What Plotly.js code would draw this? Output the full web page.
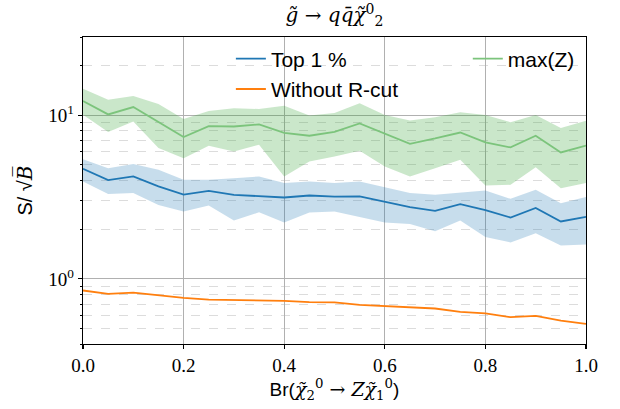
<!DOCTYPE html>
<html>
<head>
<meta charset="utf-8">
<script src="https://cdn.plot.ly/plotly-3.0.1.min.js"></script>
<style>html,body{margin:0;padding:0;background:#fff;}#chart{width:620px;height:409px;}</style>
</head>
<body>
<div id="chart"></div>
<script>
// x values: branching ratio
var br = [0.0, 0.05, 0.1, 0.15, 0.2, 0.25, 0.3, 0.35, 0.4, 0.45, 0.5, 0.55, 0.6, 0.65, 0.7, 0.75, 0.8, 0.85, 0.9, 0.95, 1.0];

// Top 1 %
var top1 = [4.70, 4.01, 4.22, 3.67, 3.27, 3.45, 3.26, 3.21, 3.14, 3.23, 3.18, 3.19, 2.96, 2.74, 2.60, 2.86, 2.63, 2.37, 2.71, 2.24, 2.39];
var top1Hi = [5.38, 4.74, 5.02, 4.63, 4.03, 4.03, 4.12, 4.22, 3.85, 3.93, 3.85, 3.93, 3.63, 3.34, 3.26, 3.37, 3.46, 3.08, 3.50, 2.90, 3.16];
var top1Lo = [3.93, 3.30, 3.34, 2.83, 2.58, 2.81, 2.27, 2.55, 2.21, 2.54, 2.58, 2.40, 2.21, 2.16, 1.95, 2.27, 1.80, 1.67, 1.90, 1.60, 1.62];

// Without R-cut
var noCut = [0.849, 0.810, 0.824, 0.790, 0.765, 0.747, 0.744, 0.744, 0.734, 0.721, 0.718, 0.694, 0.684, 0.675, 0.659, 0.628, 0.616, 0.583, 0.594, 0.556, 0.531];

// max(Z)
var maxZ = [12.2, 10.1, 11.2, 9.1, 7.35, 8.57, 8.52, 8.77, 7.8, 7.48, 7.9, 8.89, 7.72, 6.68, 7.2, 7.83, 6.81, 6.35, 7.48, 5.92, 6.52];
var maxZHi = [14.5, 12.4, 13.1, 11.7, 9.46, 10.6, 11.0, 10.9, 11.4, 9.95, 10.3, 11.8, 10.0, 9.27, 9.72, 10.4, 10.0, 9.06, 10.0, 8.34, 9.23];
var maxZLo = [10.05, 7.9, 9.15, 6.29, 5.46, 6.49, 6.0, 6.6, 4.22, 5.21, 5.59, 6.05, 4.86, 4.22, 4.74, 5.33, 3.72, 3.75, 4.81, 3.58, 3.85];

// tick labels
var xTickVals = [0, 0.2, 0.4, 0.6, 0.8, 1.0];
var xTickText = ['0.0', '0.2', '0.4', '0.6', '0.8', '1.0'];
var yTickVals = [1, 10];
var yTickText = ['10<sup>0</sup>', '10<sup>1</sup>'];
var yMinorVals = [0.4, 0.5, 0.6, 0.7, 0.8, 0.9, 2, 3, 4, 5, 6, 7, 8, 9, 20, 30];

var BLUE = '#1f77b4', ORANGE = '#ff7f0e', GREEN = '#7cc47c';
var SERIF = 'Liberation Serif, DejaVu Serif, serif';
var MATH = 'DejaVu Serif';
var SANS = 'Liberation Sans, DejaVu Sans, sans-serif';

function m(s) { return '<span style="font-family:' + MATH + '">' + s + '</span>'; }

var traces = [
  {x: br, y: maxZLo, mode: 'lines', line: {width: 0}, showlegend: false, hoverinfo: 'skip'},
  {x: br, y: maxZHi, mode: 'lines', line: {width: 0}, fill: 'tonexty', fillcolor: 'rgba(44,160,44,0.25)', showlegend: false, hoverinfo: 'skip'},
  {x: br, y: top1Lo, mode: 'lines', line: {width: 0}, showlegend: false, hoverinfo: 'skip'},
  {x: br, y: top1Hi, mode: 'lines', line: {width: 0}, fill: 'tonexty', fillcolor: 'rgba(31,119,180,0.25)', showlegend: false, hoverinfo: 'skip'},
  {x: br, y: top1, mode: 'lines', name: 'Top 1 %', line: {color: BLUE, width: 1.8}, legend: 'legend'},
  {x: br, y: noCut, mode: 'lines', name: 'Without R-cut', line: {color: ORANGE, width: 1.8}, legend: 'legend'},
  {x: br, y: maxZ, mode: 'lines', name: 'max(Z)', line: {color: GREEN, width: 1.8}, legend: 'legend2'}
];

var legendFont = {family: SANS, size: 21, color: '#000'};

var layout = {
  width: 620, height: 409,
  margin: {l: 83, r: 34, t: 37, b: 65},
  paper_bgcolor: '#fff', plot_bgcolor: '#fff',
  font: {family: SANS, size: 20, color: '#000'},
  title: {
    text: '<i>g̃</i> → <i>q</i><i>q̄</i><i>χ̃</i><sup>0</sup><sub>2</sub>',
    font: {family: MATH, size: 20, color: '#000'},
    x: 0.5, xref: 'paper', xanchor: 'center', y: 0.963, yanchor: 'middle'
  },
  xaxis: {
    range: [0, 1],
    tickmode: 'array', tickvals: xTickVals, ticktext: xTickText,
    tickfont: {family: SERIF, size: 19, color: '#000'},
    ticks: 'outside', ticklen: 4, tickwidth: 1.2, tickcolor: '#000',
    showgrid: true, gridcolor: '#b0b0b0', gridwidth: 1,
    showline: true, linecolor: '#000', linewidth: 1.2, mirror: true,
    zeroline: false,
    title: {
      text: 'Br(' + m('<i>χ̃</i><sub>2</sub><sup>0</sup> → <i>Z</i><i>χ̃</i><sub>1</sub><sup>0</sup>') + ')',
      font: {family: SANS, size: 19, color: '#000'},
      standoff: 4
    }
  },
  yaxis: {
    type: 'log',
    range: [Math.log10(0.4), Math.log10(30)],
    tickmode: 'array', tickvals: yTickVals, ticktext: yTickText,
    tickfont: {family: SERIF, size: 19, color: '#000'},
    ticks: 'outside', ticklen: 4, tickwidth: 1.2, tickcolor: '#000',
    showgrid: true, gridcolor: '#b0b0b0', gridwidth: 1,
    minor: {tickmode: 'array', tickvals: yMinorVals, ticks: 'outside', ticklen: 2, tickwidth: 1, tickcolor: '#000',
            showgrid: true, gridcolor: '#dcdcdc', gridwidth: 1, griddash: 'dash'},
    showline: true, linecolor: '#000', linewidth: 1.2, mirror: true,
    zeroline: false,
    title: {
      text: 'S/ √' + m('<i>B̅</i>'),
      font: {family: SANS, size: 20, color: '#000'},
      standoff: 10
    }
  },
  legend: {
    x: 0.294, xanchor: 'left', y: 0.995, yanchor: 'top',
    bgcolor: 'rgba(0,0,0,0)', font: legendFont, traceorder: 'normal'
  },
  legend2: {
    x: 0.765, xanchor: 'left', y: 0.995, yanchor: 'top',
    bgcolor: 'rgba(0,0,0,0)', font: legendFont
  },
  showlegend: true
};

Plotly.newPlot('chart', traces, layout, {displayModeBar: false, staticPlot: true});
</script>
</body>
</html>
